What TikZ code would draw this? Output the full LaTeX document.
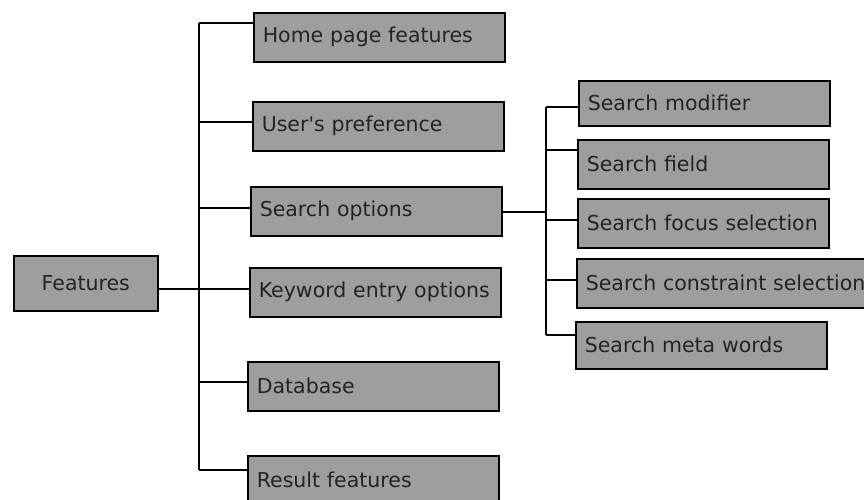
\documentclass[tikz,border=0pt]{standalone}
\usepackage{fontspec}
\setmainfont{DejaVu Sans}
\definecolor{boxgray}{RGB}{158,158,158}
\definecolor{inkgray}{RGB}{35,35,35}
\tikzset{
  feat/.style={draw=black, line width=1.6pt, fill=boxgray, text=inkgray,
    anchor=north west, minimum height=49pt, text width=233pt,
    inner xsep=9pt, align=left, font=\fontsize{20.5}{24}\selectfont},
  link/.style={line width=1.6pt, black}
}
\begin{document}
\begin{tikzpicture}[x=1pt,y=-1pt]
	\useasboundingbox (0,0) rectangle (864,500);

	% root
	\node[feat, text width=144pt, inner xsep=0pt, align=center, minimum height=55pt] (features) at (13,255) {Features};

	% first level
	\node[feat] (home) at (253,12) {Home page features};
	\node[feat] (pref) at (252,101) {User\textquotesingle s preference};
	\node[feat] (opts) at (250,186) {Search options};
	\node[feat] (kw) at (249,267) {Keyword entry options};
	\node[feat] (db) at (247,361) {Database};
	\node[feat] (res) at (247,455) {Result features};

	% second level
	\node[feat, minimum height=45pt] (mod) at (578,80) {Search modifier};
	\node[feat] (field) at (577,139) {Search field};
	\node[feat] (focus) at (577,198) {Search focus selection};
	\node[feat, text width=285pt] (cons) at (576,258) {Search constraint selection};
	\node[feat, minimum height=47pt] (meta) at (575,321) {Search meta words};

	% trunk on the left
	\coordinate (ta) at (199,23);
	\coordinate (tb) at (199,122);
	\coordinate (tc) at (199,208);
	\coordinate (td) at (199,289);
	\coordinate (te) at (199,382);
	\coordinate (tf) at (199,470);
	\draw[link] (ta) -- (tf);
	\draw[link] (ta) -- (ta -| home.west);
	\draw[link] (tb) -- (tb -| pref.west);
	\draw[link] (tc) -- (tc -| opts.west);
	\draw[link] (td -| features.east) -- (td -| kw.west);
	\draw[link] (te) -- (te -| db.west);
	\draw[link] (tf) -- (tf -| res.west);

	% trunk for the search options
	\coordinate (sa) at (546,107);
	\coordinate (sb) at (546,150);
	\coordinate (sc) at (546,220);
	\coordinate (sd) at (546,280);
	\coordinate (se) at (546,335);
	\coordinate (so) at (546,212);
	\draw[link] (sa) -- (se);
	\draw[link] (so -| opts.east) -- (so);
	\draw[link] (sa) -- (sa -| mod.west);
	\draw[link] (sb) -- (sb -| field.west);
	\draw[link] (sc) -- (sc -| focus.west);
	\draw[link] (sd) -- (sd -| cons.west);
	\draw[link] (se) -- (se -| meta.west);
\end{tikzpicture}
\end{document}
